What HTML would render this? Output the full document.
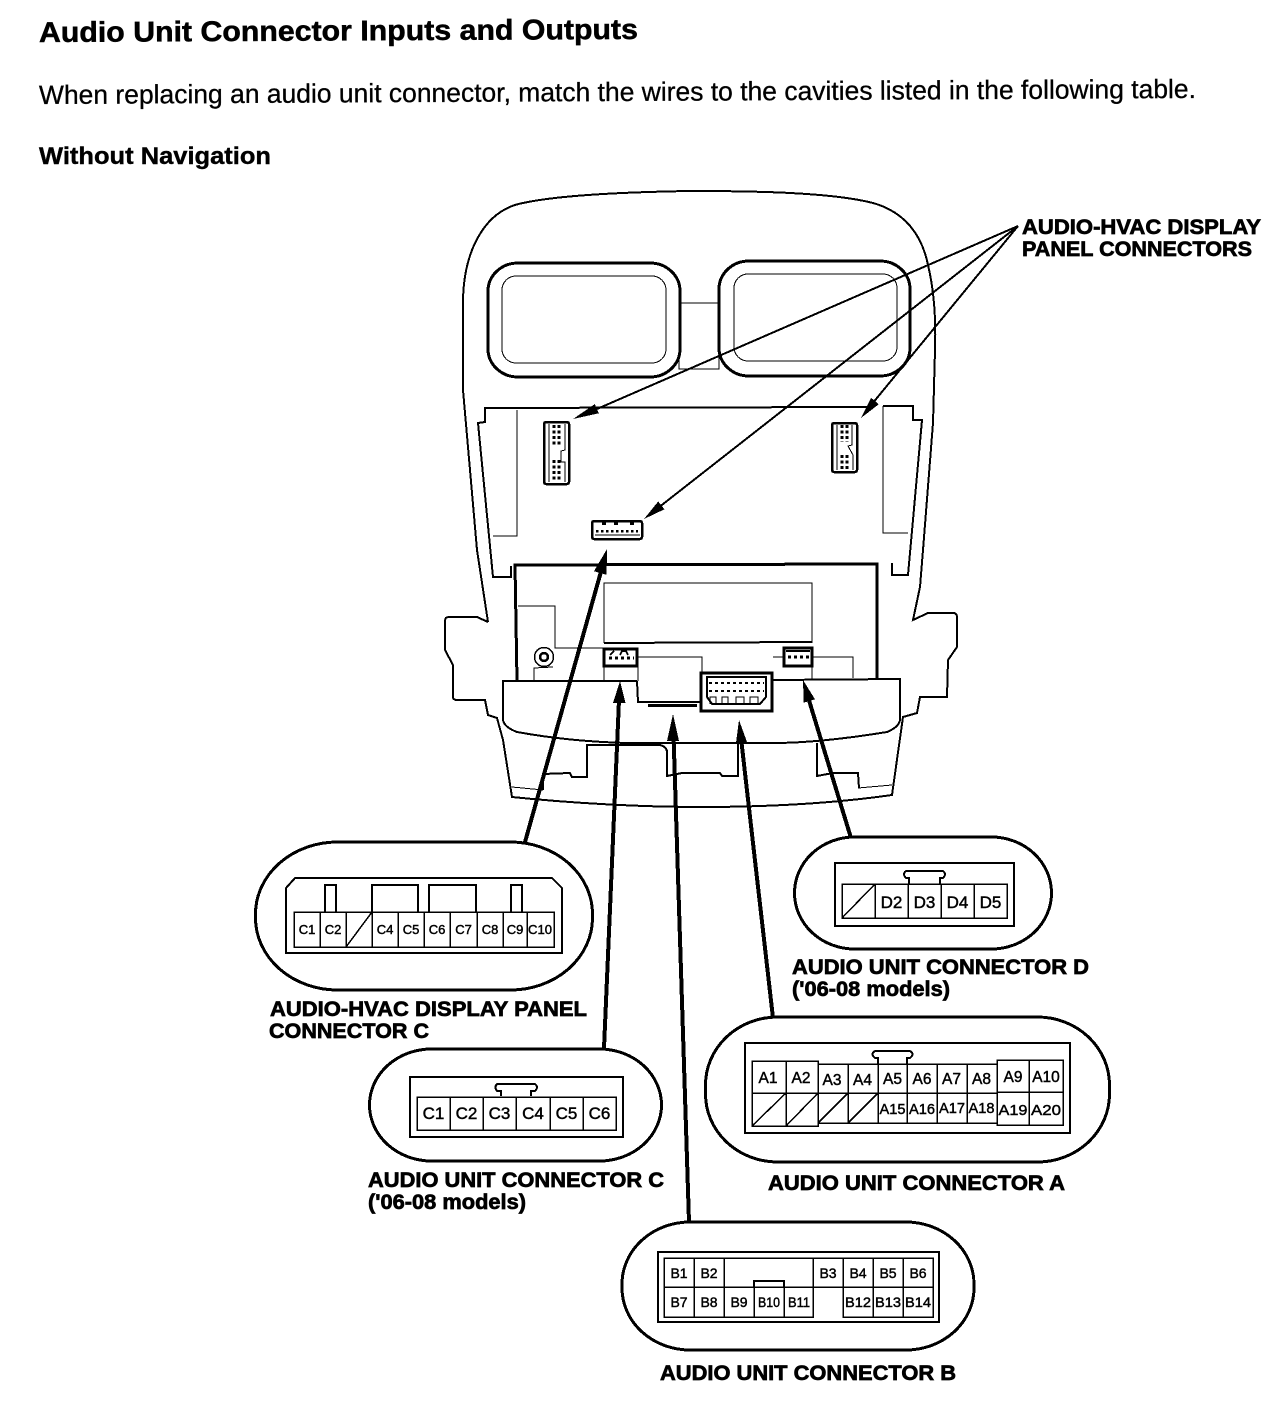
<!DOCTYPE html>
<html>
<head>
<meta charset="utf-8">
<style>
html,body{margin:0;padding:0;background:#fff;}
svg{display:block;}
text{font-family:"Liberation Sans",sans-serif;fill:#000;}
.b{font-weight:bold;stroke:#000;stroke-width:.7px;font-size:21px;}
.c{stroke:#000;stroke-width:.45px;text-anchor:middle;}
.l1{fill:none;stroke:#000;stroke-width:1;}
.l2{fill:none;stroke:#000;stroke-width:2;}
.l3{fill:none;stroke:#000;stroke-width:3;}
.cell{fill:none;stroke:#000;stroke-width:1.5;}
</style>
</head>
<body>
<svg width="1280" height="1410" viewBox="0 0 1280 1410" xmlns="http://www.w3.org/2000/svg" shape-rendering="crispEdges">
<rect width="1280" height="1410" fill="#fff"/>

<!-- Header -->
<text x="39" y="42" font-size="28.5" font-weight="bold" stroke="#000" stroke-width=".5" textLength="599" lengthAdjust="spacingAndGlyphs" transform="rotate(-.3 39 42)">Audio Unit Connector Inputs and Outputs</text>
<text x="39" y="104" font-size="26.5" textLength="1157" lengthAdjust="spacingAndGlyphs" stroke="#000" stroke-width=".3" transform="rotate(-.3 39 104)">When replacing an audio unit connector, match the wires to the cavities listed in the following table.</text>
<text x="39" y="164" font-size="24.5" font-weight="bold" textLength="232" lengthAdjust="spacingAndGlyphs" stroke="#000" stroke-width=".4">Without Navigation</text>

<!-- Outer shell -->
<path class="l2" d="M488 622 L477 550 L463 390 L463 300 C464 250 485 210 523 203 C560 195 630 192 690 191 C750 191 830 192 873 203 C905 212 922 235 928 265 C934 290 936 320 935 350 L933 423 L923 550 L920 587 L913 620 L928 613 L953 613 Q957 613 957 617 L957 647 L948 660 L947 697 L920 697 L917 713 L903 717 L892 795 C850 801 790 807 700 807 C640 807 570 803 512 797 L503 740 L497 718 L488 715 L485 700 L457 700 Q453 700 453 697 L453 665 L445 650 L445 621 Q445 617 449 617 L477 617 L488 622"/>
<path class="l1" d="M512 787 L543 790 M858 788 L892 785"/>

<!-- Windows -->
<rect class="l3" x="488" y="263" width="192" height="114" rx="30" ry="28"/>
<rect class="l1" x="502" y="276" width="164" height="87" rx="14" ry="14"/>
<rect class="l3" x="719" y="261" width="191" height="115" rx="30" ry="28"/>
<rect class="l1" x="734" y="274" width="163" height="87" rx="14" ry="14"/>
<path class="l1" d="M680 303 L719 303 M679 352 L679 369 L719 369 L719 352"/>

<!-- Bezel bracket -->
<path class="l2" d="M870 407 L485 408 L485 422 L478 423 L493 577 L511 577 L511 566"/>
<path class="l2" d="M883 406 L913 406 L913 420 L922 420 L908 575 L892 575 L892 563"/>
<path class="l1" d="M883 406 L883 533 L908 533"/>
<path class="l1" d="M517 410 L517 536 L493 536"/>

<!-- Audio unit body -->
<path class="l3" d="M517 681 L515 565 L877 564 L877 678"/>
<path class="l1" d="M604 643 L604 583 L812 583 L812 643"/>
<path class="l2" d="M604 643 L812 642"/>
<path class="l1" d="M518 606 L555 606 L555 648 L603 648 M534 680 L534 668 L553 667"/>
<circle cx="544" cy="657" r="9.5" fill="none" stroke="#000" stroke-width="1.5"/>
<circle cx="544" cy="657" r="4" fill="none" stroke="#000" stroke-width="2.5"/>
<path class="l1" d="M604 667 L604 681 M638 667 L638 681 M638 657 L702 657 L702 700 M773 657 L812 657 L812 680 M813 657 L853 657 L853 678"/>

<!-- Front bar -->
<path class="l2" d="M637 681 L638 702 L700 702 M773 680 L900 679 L900 720 Q899 727 887 732 C850 738 810 743 773 743 L627 743 C590 742 550 738 517 732 Q504 727 503 720 L503 681 L637 681"/>
<rect x="648" y="704" width="49" height="3" fill="#000"/>
<path class="l2" d="M543 790 L543 774 L570 773 L572 777 L587 777 L587 745 L660 745 Q667 747 667 752 L667 776 L682 773 L720 773 L722 776 L738 776 L738 744 M817 743 L817 776 L833 773 L858 773 L859 788"/>

<!-- Small connectors on panel -->
<g>
<rect x="544" y="422" width="25" height="62" rx="2" fill="#fff" stroke="#000" stroke-width="2.5"/>
<path class="l1" d="M549 424 L549 482 M565 424 L565 450 L561 451 L561 462 L565 462 L565 482"/>
<path stroke="#000" stroke-width="3" stroke-dasharray="3 2.5" fill="none" d="M554 425 L554 445 M559 425 L559 445 M554 460 L554 482 M559 460 L559 482"/>
<rect x="832" y="423" width="25" height="49" rx="2" fill="#fff" stroke="#000" stroke-width="2.5"/>
<path class="l1" d="M837 425 L837 470 M852 425 L852 445 L848 446 L853 455 L853 470"/>
<path stroke="#000" stroke-width="3" stroke-dasharray="3 2.5" fill="none" d="M842 425 L842 442 M847 425 L847 442 M842 455 L842 470 M847 455 L847 470"/>
<rect x="592" y="521" width="50" height="18" rx="2" fill="#fff" stroke="#000" stroke-width="2.5"/>
<path stroke="#000" stroke-width="4" fill="none" d="M604 522 L604 525 M616 522 L616 525 M632 522 L632 525"/>
<path stroke="#000" stroke-width="2.5" stroke-dasharray="2.5 2.5" fill="none" d="M596 531 L638 531"/>
<path class="l1" d="M595 535 L640 535"/>
</g>

<!-- Unit connectors -->
<rect x="604" y="649" width="33" height="17" fill="#fff" stroke="#000" stroke-width="3"/>
<path stroke="#000" stroke-width="3" stroke-dasharray="3 3" fill="none" d="M609 658 L634 658"/>
<path class="l2" d="M610 655 L614 651 M620 655 L622 651 L626 651 L628 655"/>
<rect x="784" y="648" width="28" height="18" fill="#fff" stroke="#000" stroke-width="3"/>
<path stroke="#000" stroke-width="3" stroke-dasharray="3 3" fill="none" d="M788 657 L810 657"/>
<path class="l2" d="M786 651 L810 651"/>
<path d="M701 673 L772 673 L772 711 L701 711 Z" fill="#fff" stroke="#000" stroke-width="3"/>
<path class="l2" d="M707 677 L766 677 L766 697 L760 704 L712 704 L707 697 Z"/>
<path stroke="#000" stroke-width="2" stroke-dasharray="3 3" fill="none" d="M709 683 L764 683 M709 691 L764 691"/>
<path class="l1" d="M710 704 L710 697 L716 697 L716 704 L722 704 L722 697 L728 697 L728 704 M736 704 L736 697 L744 697 L744 704 L750 704 L750 697 L758 697 L758 704"/>

<!-- Thin arrows -->
<g stroke="#000" stroke-width="2" fill="none">
<path d="M1018 226 L590 412"/>
<path d="M1018 226 L872 404"/>
<path d="M1018 226 L658 508"/>
</g>
<g fill="#000">
<polygon points="573,419 598.8,413.3 594.8,404.1"/>
<polygon points="861,418 878.8,404.2 871,397.8"/>
<polygon points="644,519 664.4,509.3 658.2,501.5"/>
</g>

<!-- Thick arrows -->
<g stroke="#000" stroke-width="4" fill="none">
<path d="M525 842 L602 568"/>
<path d="M604 1048 L619 700"/>
<path d="M689 1222 L673.5 735"/>
<path d="M773 1018 L741 738"/>
<path d="M851 838 L808 697"/>
</g>
<g fill="#000">
<polygon points="607,549 606.6,574.8 594,571.2"/>
<polygon points="620,681 625.5,703 613,703"/>
<polygon points="673,714 679,741 667,741"/>
<polygon points="739,720 747,742 736,743"/>
<polygon points="803,680 815,699.3 803.7,702.7"/>
</g>

<!-- HVAC Connector C -->
<rect x="255.500" y="842" width="337" height="148" rx="82" ry="72" fill="#fff" stroke="#000" stroke-width="3"/>
<path class="l2" d="M295 878 L552 878 L562 888 L562 953 L286 953 L286 888 Z"/>
<path class="l2" d="M325 912 L325 885 L336 885 L336 912 M372 912 L372 885 L418 885 L418 912 M429 912 L429 885 L476 885 L476 912 M511 912 L511 885 L522 885 L522 912"/>
<g class="cell">
<rect x="294" y="912" width="260" height="35"/>
<path d="M320 912V947M346 912V947M372 912V947M398 912V947M424 912V947M450 912V947M477 912V947M503 912V947M527 912V947M346 947L372 912"/>
</g>
<g class="c" font-size="13">
<text x="307" y="934">C1</text><text x="333" y="934">C2</text>
<text x="385" y="934">C4</text><text x="411" y="934">C5</text>
<text x="437" y="934">C6</text><text x="463.500" y="934">C7</text>
<text x="490" y="934">C8</text><text x="515" y="934">C9</text>
<text x="540" y="934" textLength="24" lengthAdjust="spacingAndGlyphs">C10</text>
</g>
<text class="b" x="270" y="1016" textLength="317" lengthAdjust="spacingAndGlyphs">AUDIO-HVAC DISPLAY PANEL</text>
<text class="b" x="269" y="1038" textLength="160" lengthAdjust="spacingAndGlyphs">CONNECTOR C</text>

<!-- Audio Connector C -->
<rect x="369.500" y="1049" width="292" height="112" rx="62" ry="56" fill="#fff" stroke="#000" stroke-width="3"/>
<rect class="l2" x="410" y="1077" width="213" height="60"/>
<path class="l2" d="M501 1096 L501 1091 L497 1091 Q494 1087 497 1084 L535 1084 Q539 1087 535 1091 L531 1091 L531 1096"/>
<g class="cell">
<rect x="417" y="1097" width="199" height="33"/>
<path d="M450 1097V1130M483 1097V1130M516 1097V1130M550 1097V1130M583 1097V1130"/>
</g>
<g class="c" font-size="17">
<text x="433.500" y="1119">C1</text><text x="466.500" y="1119">C2</text><text x="499.500" y="1119">C3</text>
<text x="533" y="1119">C4</text><text x="566.500" y="1119">C5</text><text x="599.500" y="1119">C6</text>
</g>
<text class="b" x="368" y="1187" textLength="296" lengthAdjust="spacingAndGlyphs">AUDIO UNIT CONNECTOR C</text>
<text class="b" x="368" y="1209" textLength="158" lengthAdjust="spacingAndGlyphs">('06-08 models)</text>

<!-- Audio Connector D -->
<rect x="794.500" y="837" width="257" height="112" rx="60" ry="56" fill="#fff" stroke="#000" stroke-width="3"/>
<rect class="l2" x="835" y="863" width="179" height="63"/>
<path class="l2" d="M909 884 L909 878 L906 878 Q902 874 906 871 L943 871 Q947 874 943 878 L940 878 L940 884"/>
<g class="cell">
<rect x="842" y="884" width="165" height="34"/>
<path d="M875 884V918M908 884V918M941 884V918M974 884V918M842 918L875 884"/>
</g>
<g class="c" font-size="17">
<text x="891.500" y="908">D2</text><text x="924.500" y="908">D3</text><text x="957.500" y="908">D4</text><text x="990.500" y="908">D5</text>
</g>
<text class="b" x="792" y="974" textLength="297" lengthAdjust="spacingAndGlyphs">AUDIO UNIT CONNECTOR D</text>
<text class="b" x="792" y="996" textLength="158" lengthAdjust="spacingAndGlyphs">('06-08 models)</text>

<!-- Audio Connector A -->
<rect x="705.500" y="1017" width="404" height="145" rx="72" ry="68" fill="#fff" stroke="#000" stroke-width="3"/>
<rect class="l2" x="745" y="1043" width="325" height="90"/>
<path class="l2" d="M878 1064 L878 1058 L875 1058 Q870 1054 875 1051 L910 1051 Q915 1054 910 1058 L907 1058 L907 1064"/>
<g class="cell">
<rect x="752" y="1061" width="66" height="65"/>
<path d="M786 1061V1126M752 1093H818"/>
<rect x="818" y="1064" width="179" height="59"/>
<path d="M848 1064V1123M878 1064V1123M907 1064V1123M937 1064V1123M967 1064V1123M818 1093H997"/>
<rect x="997" y="1060" width="66" height="65"/>
<path d="M1029 1060V1125M997 1092H1063"/>
<path d="M752 1126L786 1093M786 1126L818 1093M818 1123L848 1093M848 1123L878 1093"/>
</g>
<g class="c" font-size="15.500">
<text x="768" y="1083">A1</text><text x="801" y="1083">A2</text><text x="832" y="1085">A3</text><text x="862.500" y="1085">A4</text>
<text x="892.500" y="1084">A5</text><text x="922" y="1084">A6</text><text x="951.500" y="1084">A7</text><text x="981.500" y="1084">A8</text>
<text x="1013" y="1082">A9</text><text x="1046" y="1082">A10</text>
</g>
<g class="c" font-size="15">
<text x="892.500" y="1114" textLength="26" lengthAdjust="spacingAndGlyphs">A15</text><text x="922" y="1114" textLength="26" lengthAdjust="spacingAndGlyphs">A16</text><text x="952" y="1113" textLength="26" lengthAdjust="spacingAndGlyphs">A17</text><text x="981.500" y="1113" textLength="26" lengthAdjust="spacingAndGlyphs">A18</text>
<text x="1013" y="1115" textLength="29" lengthAdjust="spacingAndGlyphs">A19</text><text x="1046" y="1115" textLength="30" lengthAdjust="spacingAndGlyphs">A20</text>
</g>
<text class="b" x="768" y="1190" textLength="297" lengthAdjust="spacingAndGlyphs">AUDIO UNIT CONNECTOR A</text>

<!-- Audio Connector B -->
<rect x="622" y="1222" width="352" height="128" rx="68" ry="62" fill="#fff" stroke="#000" stroke-width="3"/>
<rect class="l2" x="658" y="1252" width="281" height="70"/>
<g class="cell">
<path d="M664 1258H933V1287H664ZM664 1287H813V1317H664ZM843 1287H933V1317H843Z"/>
<path d="M694 1258V1317M724 1287V1317M754 1287V1317M784 1287V1317M724 1258V1287M813 1258V1317M843 1258V1317M873 1258V1317M903 1258V1317"/>
</g>
<path class="l2" d="M754 1287V1281H784V1287"/>
<g class="c" font-size="14">
<text x="679" y="1278">B1</text><text x="709" y="1278">B2</text><text x="828" y="1278">B3</text><text x="858" y="1278">B4</text><text x="888" y="1278">B5</text><text x="918" y="1278">B6</text>
<text x="679" y="1307">B7</text><text x="709" y="1307">B8</text><text x="739" y="1307">B9</text><text x="769" y="1307" textLength="22" lengthAdjust="spacingAndGlyphs">B10</text><text x="799" y="1307" textLength="22" lengthAdjust="spacingAndGlyphs">B11</text>
<text x="858" y="1307" textLength="26" lengthAdjust="spacingAndGlyphs">B12</text><text x="888" y="1307" textLength="26" lengthAdjust="spacingAndGlyphs">B13</text><text x="918" y="1307" textLength="26" lengthAdjust="spacingAndGlyphs">B14</text>
</g>
<text class="b" x="660" y="1380" textLength="296" lengthAdjust="spacingAndGlyphs">AUDIO UNIT CONNECTOR B</text>

<!-- Top-right label -->
<text class="b" x="1022" y="234" textLength="239" lengthAdjust="spacingAndGlyphs">AUDIO-HVAC DISPLAY</text>
<text class="b" x="1022" y="256" textLength="230" lengthAdjust="spacingAndGlyphs">PANEL CONNECTORS</text>
</svg>
</body>
</html>
